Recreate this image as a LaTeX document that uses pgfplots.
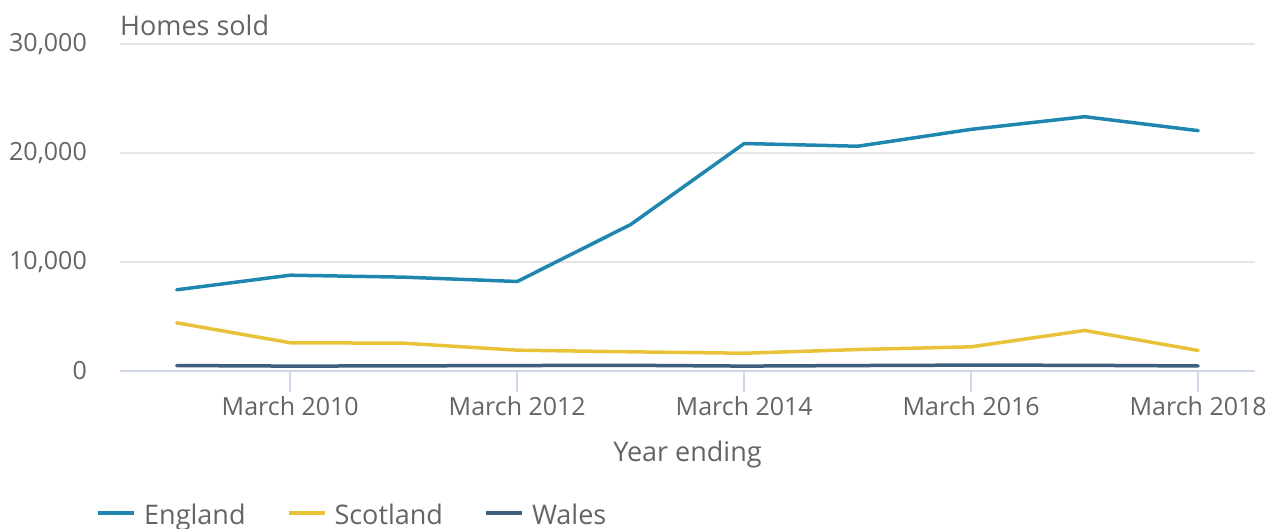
\documentclass[border=0pt]{standalone}
\usepackage{fontspec}
\setmainfont{Open Sans}
\usepackage{pgfplots}
\pgfplotsset{compat=1.18}
\definecolor{eng}{RGB}{31,135,175}
\definecolor{sco}{RGB}{232,195,58}
\definecolor{wal}{RGB}{61,94,125}
\definecolor{txt}{RGB}{100,100,100}
\definecolor{gridc}{RGB}{229,229,229}
\definecolor{axc}{RGB}{208,216,234}
\begin{document}
\fontsize{24}{28}\selectfont
\begin{tikzpicture}[x=1pt,y=1pt]
\useasboundingbox (-120,-158) rectangle (1149,371);
\begin{axis}[
  at={(0,0)}, anchor=south west,
  width=1135pt, height=327pt, scale only axis,
  xmin=-0.5, xmax=9.5, ymin=0, ymax=30000,
  clip=false,
  axis x line*=bottom, axis y line*=left,
  x axis line style={draw=axc, line width=2pt, -},
  y axis line style={draw=none},
  xtick={1,3,5,7,9},
  xticklabels={March 2010,March 2012,March 2014,March 2016,March 2018},
  ytick={0,10000,20000,30000},
  scaled y ticks=false,
  yticklabel={\pgfmathprintnumber[1000 sep={,},assume math mode=true]{\tick}},
  xtick align=outside,
  major tick length=21pt,
  x tick style={draw=axc, line width=2pt},
  y tick style={draw=none},
  ymajorgrids,
  grid style={draw=gridc, line width=2pt},
  tick label style={font=\fontsize{25}{29}\selectfont, text=txt},
  yticklabel style={anchor=east, inner sep=0pt, xshift=-33pt},
  xticklabel style={anchor=base, inner sep=0pt, yshift=-23pt},
  xlabel={Year ending},
  xlabel style={at={(axis description cs:0.5,0)}, anchor=base, inner sep=0pt, yshift=-91pt, font=\fontsize{27}{31}\selectfont, text=txt},
  legend columns=3,
  legend style={at={(axis description cs:0,0)}, anchor=west, xshift=-24pt, yshift=-145pt,
    draw=none, fill=none, inner sep=0pt, font=\fontsize{27}{31}\selectfont, text=txt,
    nodes={inner sep=0pt},
    /tikz/every odd column/.append style={column sep=8pt},
    /tikz/every even column/.append style={column sep=41pt}},
  legend cell align=left,
  legend image code/.code={\draw[#1, line width=4pt, line cap=butt] (0pt,3pt) -- (36pt,3pt);},
  every axis plot/.append style={line width=3.5pt, line join=round, line cap=round, mark=none},
]
\addplot[color=eng] coordinates {(0,7450) (1,8790) (2,8610) (3,8210) (4,13440) (5,20870) (6,20620) (7,22170) (8,23330) (9,22050)};
\addlegendentry{England}
\addplot[color=sco] coordinates {(0,4420) (1,2590) (2,2550) (3,1910) (4,1760) (5,1630) (6,1970) (7,2220) (8,3720) (9,1880)};
\addlegendentry{Scotland}
\addplot[color=wal] coordinates {(0,500) (1,450) (2,470) (3,500) (4,520) (5,450) (6,500) (7,540) (8,520) (9,460)};
\addlegendentry{Wales}
\node[anchor=base west, inner sep=0pt, font=\fontsize{27}{31}\selectfont, text=txt] at (rel axis cs:0,1) [yshift=8pt] {Homes sold};
\end{axis}
\end{tikzpicture}
\end{document}
